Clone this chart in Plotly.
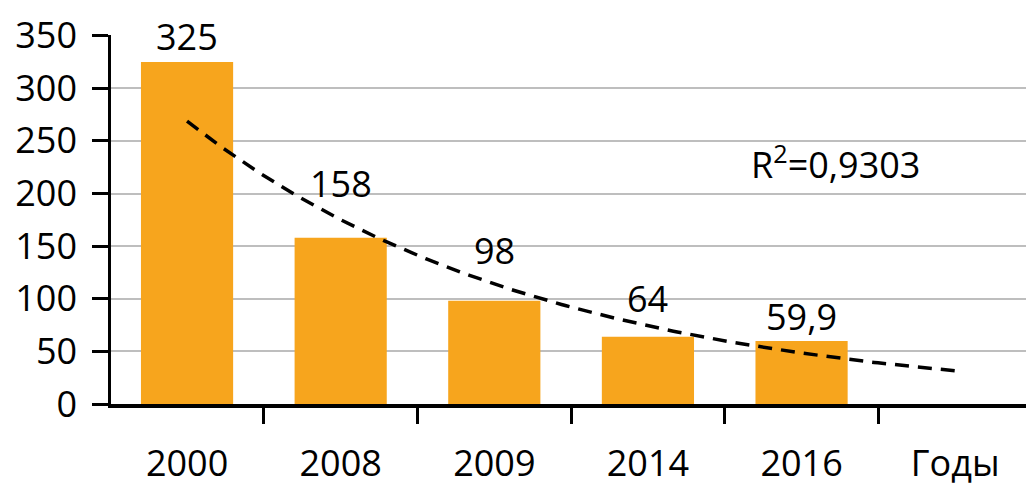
import numpy as np
import plotly.graph_objects as go

categories = ["2000", "2008", "2009", "2014", "2016", "Годы"]
bar_years = ["2000", "2008", "2009", "2014", "2016"]
values = [325, 158, 98, 64, 59.9]
value_labels = ["325", "158", "98", "64", "59,9"]
label_shift_px = [25, 54, 50, 38, 24]
r2_text = "R<sup>2</sup>=0,9303"
y_ticks = [0, 50, 100, 150, 200, 250, 300, 350]

FONT = "Open Sans"
FS = 36
BAR_COLOR = "#F7A51D"

# exponential trendline (Excel style: fit ln(y) = a + b*x, x = 1..n)
xi = np.arange(1, len(values) + 1)
b, a = np.polyfit(xi, np.log(values), 1)
xt = np.linspace(1, len(categories), 200)
yt = np.exp(a + b * xt)

fig = go.Figure()
fig.add_trace(go.Bar(
    x=bar_years, y=values, marker=dict(color=BAR_COLOR, line=dict(width=0)),
    width=0.6, showlegend=False, hoverinfo="skip",
))
fig.add_trace(go.Scatter(
    x=xt - 1, y=yt, xaxis="x2", mode="lines",
    line=dict(color="black", width=3.5, dash="14px,9px"),
    showlegend=False, hoverinfo="skip",
))

annotations = []
for i, (v, t, s) in enumerate(zip(values, value_labels, label_shift_px)):
    annotations.append(dict(
        x=i, y=v, xref="x2", yref="y", text=t, showarrow=False,
        yanchor="middle", xanchor="center", yshift=s,
        font=dict(family=FONT, size=FS, color="black"),
    ))
annotations.append(dict(
    x=0.787, y=229, xref="paper", yref="y", text=r2_text, showarrow=False,
    xanchor="center", yanchor="middle",
    font=dict(family=FONT, size=FS, color="black"),
))

fig.update_layout(
    width=1026, height=487,
    margin=dict(l=103, r=2, t=25, b=91),
    paper_bgcolor="white", plot_bgcolor="white",
    font=dict(family=FONT, size=FS, color="black"),
    bargap=0.4,
    xaxis=dict(
        type="category", categoryorder="array", categoryarray=categories,
        range=[-0.495, len(categories) - 0.5],
        showline=True, linecolor="black", linewidth=3.5,
        ticks="outside", tickson="boundaries", ticklen=16, tickwidth=2.5,
        tickcolor="black", showgrid=False, ticklabelstandoff=25,
        ticklabeloverflow="allow",
        tickfont=dict(family=FONT, size=FS, color="black"),
    ),
    xaxis2=dict(
        overlaying="x", range=[-0.495, len(categories) - 0.5],
        visible=False, showgrid=False,
    ),
    yaxis=dict(
        range=[0, 350.6], tickvals=y_ticks,
        showline=True, linecolor="black", linewidth=2.5,
        ticks="outside", ticklen=16, tickwidth=3, tickcolor="black",
        showgrid=True, gridcolor="#BEBEBE", gridwidth=1.5,
        zeroline=False, ticklabelstandoff=8, ticklabeloverflow="allow",
        tickfont=dict(family=FONT, size=FS, color="black"),
    ),
    annotations=annotations,
)

fig.write_html("out.html")
